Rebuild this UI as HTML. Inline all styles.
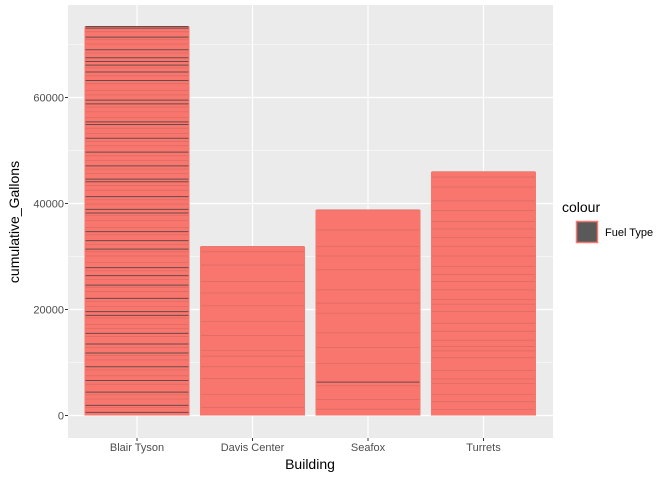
<!DOCTYPE html>
<html><head><meta charset="utf-8"><style>
body{margin:0;background:#fff;}
svg text{font-family:"Liberation Sans",sans-serif;}
</style></head><body>
<svg id="chart" width="672" height="480">
<rect x="68" y="5" width="485" height="433" fill="#EBEBEB"/>
<g id="grid"></g><g id="bars"></g><g id="axes"></g>
<text x="310" y="469" font-size="14" text-anchor="middle" fill="#000">Building</text>
<text transform="translate(19,222) rotate(-90)" font-size="14" text-anchor="middle" fill="#000">cumulative_Gallons</text>
<g>
<text x="562" y="212" font-size="14" fill="#000">colour</text>
<rect x="576.5" y="221.5" width="21" height="21" fill="#595959" stroke="#F8766D" stroke-width="1.5"/>
<text x="605" y="236" font-size="11" fill="#000">Fuel Type</text>
</g>
</svg>
<script>
const categories=["Blair Tyson","Davis Center","Seafox","Turrets"];
const segBlair=[600,900,400,1200,800,500,1500,700,900,1100,600,1300,800,500,1000,700,1400,600,900,800,1200,500,700,1000,900,600,1300,800,400,1100,700,900,600,1000,1200,800,500,900,700,1100,600,800,1300,900,500,700,1000,800,600,1200,900,700,500,1100,800,600,1000,900,700,1200,800,600,900,1000,700,500,800,1100,900,600,700,1000,800,1300,600,900,700,800,500,700,700,900,600,1100,800,500,1000,700,300];
const segDavis=[1500,2500,3000,2200,2000,1100,2800,2600,3000,2400,2200,3100,2500,1000];
const segSeafox=[1200,1800,2600,700,3500,3000,2800,3700,1900,2500,3800,2600,1800,3100,3800];
const segTurrets=[1100,1500,1400,2000,900,1600,2400,1300,800,1200,1700,1500,2200,1400,900,1800,1600,1300,1500,2000,1800,1700,1600,1400,2100,1800,2600,1900,1000];
const segments=[segBlair,segDavis,segSeafox,segTurrets];
const yTicks=[0,20000,40000,60000];
const yTickLabels=["0","20000","40000","60000"];
const yMinor=[10000,30000,50000,70000];
const NS="http://www.w3.org/2000/svg";
const y=v=>415.5-v*106/20000;
const x=i=>137+i*115.5;
const bw=105;
function mk(t,a,p){const e=document.createElementNS(NS,t);for(const k in a)e.setAttribute(k,a[k]);p.appendChild(e);return e;}
const grid=document.getElementById('grid'),bars=document.getElementById('bars'),axes=document.getElementById('axes');
yMinor.forEach(v=>{const l=mk('line',{x1:68,x2:553,y1:y(v),y2:y(v),stroke:'#fff','stroke-width':0.6},grid);

});
yTicks.forEach((v,i)=>{const l=mk('line',{x1:68,x2:553,y1:y(v),y2:y(v),stroke:'#fff','stroke-width':1.2},grid);


const t=mk('text',{x:64,y:y(v)+4,'font-size':11,'text-anchor':'end',fill:'#4D4D4D'},axes);t.textContent=yTickLabels[i];


const k=mk('line',{x1:65,x2:68,y1:y(v),y2:y(v),stroke:'#333'},axes);

});
categories.forEach((c,i)=>{const l=mk('line',{x1:x(i),x2:x(i),y1:5,y2:438,stroke:'#fff','stroke-width':1.2},grid);


const g=mk('g',{},bars);


const tot=segments[i].reduce((a,b)=>a+b,0);
const r=mk('rect',{x:x(i)-bw/2,y:y(tot),width:bw,height:y(0)-y(tot),fill:'#F8766D'},g);


let cum=0;segments[i].forEach((s,j)=>{cum+=s;
const dark=s<800;
const ln=mk('line',{x1:x(i)-bw/2+1,x2:x(i)+bw/2-1,y1:y(cum),y2:y(cum),stroke:dark?'#6a4a48':'#d96a62','stroke-width':dark?1:0.7},g);

});
const t=mk('text',{x:x(i),y:451,'font-size':11,'text-anchor':'middle',fill:'#4D4D4D'},axes);t.textContent=c;


const k=mk('line',{x1:x(i),x2:x(i),y1:438,y2:441,stroke:'#333'},axes);

});
</script>
</body></html>
